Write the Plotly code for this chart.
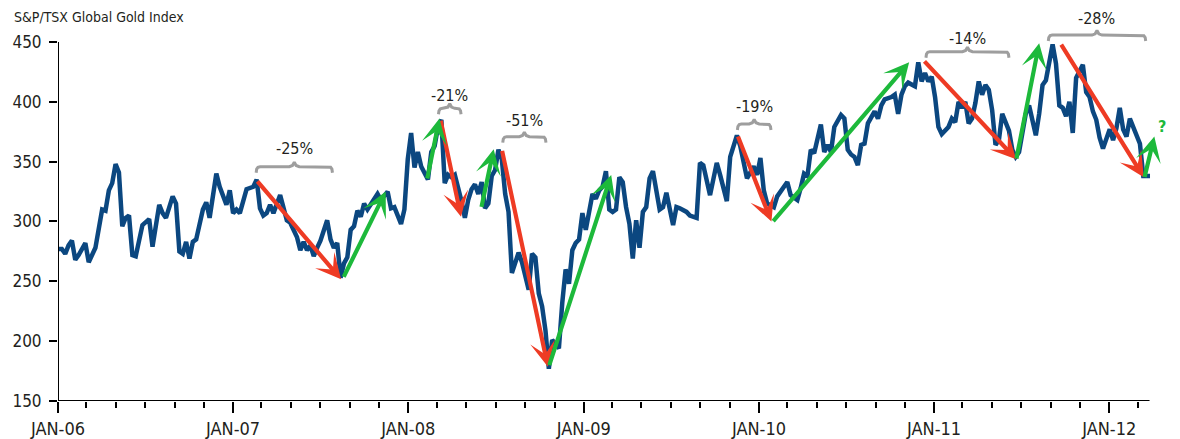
import pandas as pd
import plotly.graph_objects as go

# ---------------- data ----------------
# weekly observations: week offset from 2006-01-02 and index level
weeks = [0, 1, 2, 3, 4, 5, 6, 8, 9, 11, 13, 14, 15, 16, 17, 18, 19, 20, 21, 22, 23, 25, 27, 28, 30, 31, 32, 34,
         35, 36, 37, 38, 39, 40, 41, 43, 44, 45, 47, 48, 50, 51, 52, 53, 54, 56, 58, 59, 60, 61, 62, 63, 64, 65,
         66, 68, 69, 71, 72, 73, 74, 75, 76, 77, 78, 80, 81, 82, 83, 84, 85, 86, 87, 88, 89, 90, 91, 92, 94, 95,
         96, 98, 99, 100, 102, 103, 104, 105, 106, 107, 108, 110, 111, 112, 113, 114, 115, 116, 117, 118, 120,
         121, 122, 123, 124, 125, 126, 127, 128, 129, 130, 131, 132, 133, 134, 135, 137, 138, 140, 141, 142, 143,
         144, 145, 146, 147, 148, 149, 150, 151, 152, 153, 154, 155, 156, 157, 159, 160, 161, 162, 163, 164, 165,
         166, 167, 168, 169, 170, 171, 172, 173, 174, 175, 176, 177, 179, 180, 181, 183, 184, 185, 187, 188, 190,
         191, 192, 194, 196, 197, 199, 200, 202, 203, 204, 205, 207, 208, 209, 210, 211, 213, 214, 215, 216, 217,
         218, 220, 221, 222, 223, 224, 225, 227, 228, 229, 230, 231, 233, 234, 235, 236, 237, 238, 239, 240, 241,
         243, 244, 245, 246, 248, 249, 250, 251, 252, 253, 255, 256, 257, 258, 259, 260, 261, 262, 263, 265, 266,
         267, 268, 269, 270, 271, 272, 273, 274, 275, 276, 277, 278, 279, 280, 281, 282, 283, 284, 285, 286, 287,
         288, 289, 290, 291, 292, 293, 294, 295, 296, 297, 298, 299, 300, 301, 302, 303, 305, 306, 307, 308, 309,
         310, 311, 313, 314, 315, 316, 317, 318, 319, 321, 322, 323, 324, 325]
values = [277, 277, 273, 280, 284, 268, 272, 282, 266, 278, 310, 309, 326, 332, 348, 341, 296, 303, 305, 272, 271,
          297, 302, 279, 314, 307, 303, 321, 315, 275, 273, 283, 269, 283, 285, 310, 316, 303, 340, 329, 314, 326,
          307, 310, 307, 327, 329, 335, 311, 305, 307, 314, 307, 315, 322, 301, 299, 287, 276, 283, 276, 280, 271,
          278, 284, 301, 285, 278, 282, 253, 265, 270, 293, 296, 309, 304, 315, 310, 319, 323, 318, 325, 311, 312,
          298, 310, 352, 374, 345, 358, 346, 335, 358, 363, 379, 385, 332, 339, 337, 339, 317, 303, 318, 327, 331,
          323, 333, 311, 315, 338, 343, 360, 352, 323, 308, 257, 274, 266, 243, 273, 270, 240, 229, 209, 177, 201,
          198, 194, 232, 260, 248, 276, 282, 285, 307, 293, 323, 319, 326, 329, 342, 310, 308, 310, 337, 333, 312,
          298, 269, 301, 278, 308, 312, 336, 342, 310, 312, 324, 297, 312, 311, 308, 305, 303, 349, 347, 322, 349,
          339, 317, 354, 372, 363, 349, 336, 346, 339, 353, 326, 315, 312, 321, 325, 328, 333, 322, 318, 328, 340,
          338, 360, 357, 381, 358, 364, 358, 379, 389, 386, 360, 356, 354, 347, 364, 365, 382, 392, 386, 397, 402,
          404, 406, 390, 406, 413, 416, 413, 433, 417, 424, 417, 421, 404, 379, 373, 379, 386, 383, 400, 395, 400,
          382, 386, 399, 417, 406, 414, 410, 393, 364, 368, 390, 383, 376, 360, 354, 358, 374, 390, 397, 385, 372,
          390, 414, 418, 434, 448, 432, 397, 395, 388, 400, 374, 420, 431, 408, 404, 392, 385, 370, 361, 377, 368,
          378, 395, 377, 371, 386, 371, 365, 338, 338, 338]

year_ticks = ["2006-01-01", "2007-01-01", "2008-01-01", "2009-01-01", "2010-01-01", "2011-01-01", "2012-01-01"]
year_labels = ["JAN-06", "JAN-07", "JAN-08", "JAN-09", "JAN-10", "JAN-11", "JAN-12"]
y_ticks = [150, 200, 250, 300, 350, 400, 450]

# drawdown brackets
drop_labels = ["-25%", "-21%", "-51%", "-19%", "-14%", "-28%"]
brace_start = ["2007-02-18", "2008-03-04", "2008-07-16", "2009-11-17", "2010-12-15", "2011-08-27"]
brace_end = ["2007-07-27", "2008-04-20", "2008-10-14", "2010-01-26", "2011-06-06", "2012-03-17"]
brace_level = [345.8, 394.6, 370.9, 381.5, 441.9, 455.8]
label_level = [361.4, 404.9, 384.2, 396.5, 453.3, 470.0]

# trend arrows (start -> end)
red_start_date = ["2007-02-18", "2008-03-08", "2008-07-14", "2009-11-17", "2010-12-09", "2011-09-21"]
red_start_val = [334.7, 385.4, 360.3, 372.3, 435.0, 449.0]
red_end_date = ["2007-08-14", "2008-04-20", "2008-10-18", "2010-01-27", "2011-06-21", "2012-03-13"]
red_end_val = [251.7, 304.0, 178.7, 299.9, 352.0, 337.0]

green_start_date = ["2007-08-18", "2008-02-09", "2008-06-01", "2008-10-20", "2010-01-28", "2011-06-21", "2012-03-14"]
green_start_val = [252.5, 334.7, 311.0, 178.7, 299.0, 351.4, 336.0]
green_end_date = ["2007-11-15", "2008-03-06", "2008-06-27", "2009-02-27", "2010-11-10", "2011-08-08", "2012-04-04"]
green_end_val = [325.0, 386.0, 360.3, 338.9, 433.0, 449.0, 371.0]

question_date = "2012-04-21"
question_val = 379

# ---------------- style ----------------
BLUE = "#0B4780"
RED = "#EE3B24"
GREEN = "#1DB93B"
GREY = "#9E9E9E"
TXT = "#231F20"
FONT = "Liberation Sans Narrow, DejaVu Sans Condensed, Arial Narrow, Roboto, sans-serif"

start = pd.Timestamp("2006-01-02")
dates = [start + pd.Timedelta(weeks=w) for w in weeks]
minor_ticks = [d.strftime("%Y-%m-%d") for d in pd.date_range("2006-01-01", "2012-03-01", freq="2MS")]

fig = go.Figure()
fig.add_trace(go.Scatter(x=dates, y=values, mode="lines",
                         line=dict(color=BLUE, width=4.5), hoverinfo="skip", showlegend=False))

DPX = 365.25 / 175.3   # days per pixel (approx)
VPX = 300 / 359.0      # value units per pixel
for s, e, lev in zip(brace_start, brace_end, brace_level):
    s = pd.Timestamp(s)
    e = pd.Timestamp(e)
    m = s + (e - s) / 2
    def px(d, base):
        return base + pd.Timedelta(days=d * DPX)
    pts = [
        (s, -6), (px(0.5, s), -2.5), (px(1.8, s), -0.6), (px(4, s), 0),
        (px(-5, m), 0), (px(-1.8, m), 1.2), (m, 4.5), (px(1.8, m), 1.2), (px(5, m), 0),
        (px(-4, e), 0), (px(-1.8, e), -0.6), (px(-0.5, e), -2.5), (e, -6),
    ]
    fig.add_trace(go.Scatter(x=[p[0] for p in pts], y=[lev + p[1] * VPX for p in pts], mode="lines",
                             line=dict(color=GREY, width=3), hoverinfo="skip", showlegend=False))

annotations = []
for lab, s, e, lv in zip(drop_labels, brace_start, brace_end, label_level):
    s = pd.Timestamp(s)
    e = pd.Timestamp(e)
    m = s + (e - s) / 2
    annotations.append(dict(x=m, y=lv, xref="x", yref="y", text=lab, showarrow=False,
                            font=dict(family=FONT, size=16, color=TXT), xanchor="center", yanchor="middle"))

def arrow(sd, sv, ed, ev, col):
    return dict(x=ed, y=ev, ax=sd, ay=sv, xref="x", yref="y", axref="x", ayref="y", text="",
                showarrow=True, arrowhead=3, arrowsize=1.0, arrowwidth=4.2, arrowcolor=col,
                standoff=0, startstandoff=0)

for a in zip(red_start_date, red_start_val, red_end_date, red_end_val):
    annotations.append(arrow(*a, RED))
for a in zip(green_start_date, green_start_val, green_end_date, green_end_val):
    annotations.append(arrow(*a, GREEN))

annotations.append(dict(x=question_date, y=question_val, xref="x", yref="y", text="<b>?</b>", showarrow=False,
                        font=dict(family=FONT, size=16, color=GREEN), xanchor="center", yanchor="middle"))

shapes = [
    dict(type="line", xref="x", yref="y", x0="2006-01-01", x1="2006-01-01", y0=150, y1=450,
         line=dict(color="black", width=2), layer="above"),
    dict(type="line", xref="x", yref="y", x0="2006-01-01", x1="2012-03-25", y0=150, y1=150,
         line=dict(color="black", width=2), layer="above"),
]

fig.update_layout(
    width=1180, height=439,
    margin=dict(l=58, r=6, t=5, b=38, autoexpand=False),
    paper_bgcolor="white", plot_bgcolor="white",
    showlegend=False, hovermode=False,
    title=dict(text="S&P/TSX Global Gold Index", x=14 / 1180, xanchor="left", y=1 - 17 / 439, yanchor="middle",
               font=dict(family=FONT, size=14, color=TXT)),
    annotations=annotations, shapes=shapes,
    xaxis=dict(type="date", range=["2006-01-01", "2012-05-15"], showgrid=False, zeroline=False, showline=False,
               automargin=False,
               tickmode="array", tickvals=year_ticks, ticktext=year_labels, ticks="outside", ticklen=11,
               tickwidth=2, tickcolor="black",
               tickfont=dict(family=FONT, size=18, color=TXT),
               minor=dict(tickmode="array", tickvals=minor_ticks, ticks="outside", ticklen=6, tickwidth=2,
                          tickcolor="black", showgrid=False)),
    yaxis=dict(range=[150, 480.9], showgrid=False, zeroline=False, showline=False, automargin=False,
               tickmode="array", tickvals=y_ticks, ticks="outside", ticklen=8, tickwidth=2, tickcolor="black",
               ticklabelstandoff=4,
               tickfont=dict(family=FONT, size=17, color=TXT)),
)

fig.write_html("out.html", config={"displayModeBar": False},
               post_script="document.body.style.margin='0px';document.body.style.overflow='hidden';")
